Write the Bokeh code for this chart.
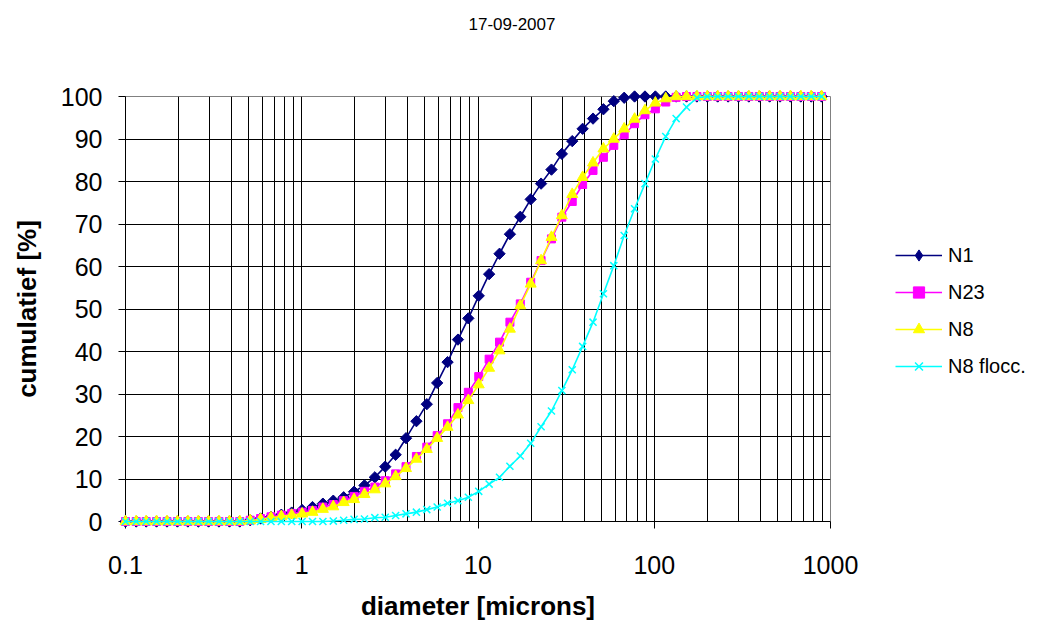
import numpy as np
from bokeh.plotting import figure
from bokeh.layouts import row
from bokeh.models import (Range1d, FixedTicker, CustomJSTickFormatter, Legend,
                          LegendItem, Title)
from bokeh.embed import file_html
from bokeh.resources import INLINE

# ---- data -------------------------------------------------------------
title_text = "17-09-2007"
x_label = "diameter [microns]"
y_label = "cumulatief [%]"

sizes = [0.100, 0.115, 0.131, 0.150, 0.172, 0.197, 0.226, 0.259, 0.296, 0.339,
         0.389, 0.445, 0.510, 0.584, 0.669, 0.766, 0.877,
         1.005, 1.151, 1.318, 1.510, 1.729, 1.981, 2.269, 2.599, 2.976, 3.409,
         3.905, 4.472, 5.122, 5.867, 6.720, 7.697, 8.816,
         10.097, 11.565, 13.246, 15.172, 17.377, 19.904, 22.797, 26.111, 29.907,
         34.255, 39.234, 44.938, 51.471, 58.953, 67.523, 77.339, 88.583,
         101.46, 116.21, 133.10, 152.45, 174.61, 200.00, 229.07, 262.37, 300.51,
         344.19, 394.22, 451.53, 517.17, 592.35, 678.46, 777.09, 890.06]

n1 = [0, 0, 0, 0, 0, 0, 0, 0, 0, 0, 0, 0,
      0.3, 0.7, 1.1, 1.6, 2.1, 2.7, 3.4, 4.2, 4.9, 5.7, 7.0, 8.5, 10.4, 12.9,
      15.7, 19.6, 23.6, 27.6, 32.6, 37.5, 42.8, 47.8, 53.1, 58.2, 63.0, 67.6,
      71.7, 75.8, 79.5, 82.8, 86.5, 89.5, 92.4, 94.8, 97.0, 98.9, 99.7,
      100, 100, 100, 100, 100, 100, 100, 100, 100, 100, 100, 100, 100, 100,
      100, 100, 100, 100, 100]

n23 = [0, 0, 0, 0, 0, 0, 0, 0, 0, 0, 0, 0,
       0.3, 0.7, 1.1, 1.5, 1.9, 2.2, 2.6, 3.4, 4.0, 4.9, 5.9, 7.1, 8.1, 9.6,
       11.2, 12.9, 15.3, 17.5, 20.2, 23.0, 26.8, 30.4, 34.1, 38.2, 42.2, 46.9,
       51.2, 56.3, 61.4, 66.5, 71.6, 75.3, 79.3, 82.6, 85.7, 88.5, 91.0, 93.6,
       95.7, 97.1, 98.7, 99.8,
       100, 100, 100, 100, 100, 100, 100, 100, 100, 100, 100, 100, 100, 100]

n8 = [0, 0, 0, 0, 0, 0, 0, 0, 0, 0, 0, 0,
      0.2, 0.5, 0.9, 1.2, 1.5, 1.8, 2.2, 2.9, 3.5, 4.5, 5.2, 6.4, 7.5, 8.9,
      10.6, 12.5, 14.7, 17.0, 19.6, 22.2, 25.1, 28.5, 32.2, 36.1, 40.2, 45.3,
      50.8, 55.9, 61.4, 66.9, 72.0, 77.0, 81.0, 84.4, 87.7, 90.0, 92.4, 94.7,
      96.7, 98.5, 99.5,
      100, 100, 100, 100, 100, 100, 100, 100, 100, 100, 100, 100, 100, 100, 100]

n8_flocc = [0, 0, 0, 0, 0, 0, 0, 0, 0, 0, 0, 0, 0, 0, 0, 0, 0, 0, 0, 0,
            0.1, 0.3, 0.5, 0.6, 0.9, 1.0, 1.4, 1.8, 2.2, 2.8, 3.4, 4.3, 4.9,
            5.7, 7.1, 8.8, 10.4, 13.0, 15.4, 18.4, 22.3, 26.0, 30.8, 35.7,
            41.2, 46.9, 53.6, 60.2, 67.3, 73.6, 79.5, 85.3, 90.6, 94.8, 97.5,
            99.7,
            100, 100, 100, 100, 100, 100, 100, 100, 100, 100, 100, 100]

series_names = ["N1", "N23", "N8", "N8 flocc."]
x_major = [0.1, 1, 10, 100, 1000]
y_ticks = [0, 10, 20, 30, 40, 50, 60, 70, 80, 90, 100]

# ---- main figure ------------------------------------------------------
FONT = "Liberation Sans"
p = figure(width=862, height=628, x_axis_type="log",
           x_range=Range1d(0.1, 1000), y_range=Range1d(0, 100),
           output_backend="svg", toolbar_location=None,
           min_border_left=125, min_border_right=32,
           min_border_top=96, min_border_bottom=107)
p.background_fill_color = "white"
p.border_fill_color = "white"
p.outline_line_color = "#808080"
p.outline_line_width = 1

# chart title (outermost) + an empty spacer title between it and the frame
p.title.text = title_text
p.title.align = "left"
p.title.offset = 343
p.title.vertical_align = "top"
p.title.standoff = 18
p.title.text_font = FONT
p.title.text_font_size = "17px"
p.title.text_font_style = "normal"
p.title.text_color = "black"
spacer = Title(text=" ", text_font_size="2px", standoff=52)
p.add_layout(spacer, "above")

x_minor = [m * d for d in x_major[:-1] for m in range(2, 10)]
p.xaxis.ticker = FixedTicker(ticks=x_major, minor_ticks=x_minor)
p.xaxis.formatter = CustomJSTickFormatter(
    code="return tick >= 1 ? tick.toFixed(0) : tick.toFixed(1);")
p.yaxis.ticker = FixedTicker(ticks=y_ticks)

for ax in (p.xaxis, p.yaxis):
    ax.axis_line_color = "black"
    ax.major_tick_line_color = "black"
    ax.major_tick_out = 7
    ax.major_tick_in = 0
    ax.minor_tick_line_color = None
    ax.major_label_text_font = FONT
    ax.major_label_text_font_size = "25px"
    ax.major_label_text_color = "black"
    ax.axis_label_text_font = FONT
    ax.axis_label_text_font_size = "26px"
    ax.axis_label_text_font_style = "bold"
    ax.axis_label_text_color = "black"

p.xaxis.axis_label = x_label
p.yaxis.axis_label = y_label
p.xaxis.major_label_standoff = 27
p.xaxis.axis_label_standoff = 14
p.yaxis.major_label_standoff = 16
p.yaxis.axis_label_standoff = 16

p.xgrid.grid_line_color = "black"
p.xgrid.grid_line_width = 1
p.xgrid.minor_grid_line_color = "black"
p.xgrid.minor_grid_line_width = 1
p.ygrid.grid_line_color = "black"
p.ygrid.grid_line_width = 1

styles = [
    dict(color="#000080", marker="square", size=8, angle=np.pi / 4,
         legend_marker="diamond"),
    dict(color="#FF00FF", marker="square", size=8, angle=0,
         legend_marker="square"),
    dict(color="#FFFF00", marker="triangle", size=11, angle=0,
         legend_marker="triangle"),
    dict(color="#00FFFF", marker="x", size=10, angle=0,
         legend_marker="x"),
]
for ys, st in zip([n1, n23, n8, n8_flocc], styles):
    p.line(sizes, ys, line_color=st["color"], line_width=1.6, level="overlay")
    p.scatter(sizes, ys, marker=st["marker"], size=st["size"],
              angle=st["angle"], fill_color=st["color"],
              line_color=st["color"],
              line_width=1.5 if st["marker"] == "x" else 1,
              level="overlay")

# ---- legend panel (key only; proxies hold no visible data) ------------
pl = figure(width=182, height=628, x_axis_type=None, y_axis_type=None,
            x_range=Range1d(0, 1), y_range=Range1d(0, 1),
            output_backend="svg", toolbar_location=None, min_border=0)
pl.outline_line_color = None
pl.background_fill_color = "white"
pl.border_fill_color = "white"
items = []
for name, st in zip(series_names, styles):
    ln = pl.line(x=[np.nan], y=[np.nan], line_color=st["color"],
                 line_width=1.6)
    sc = pl.scatter(x=[np.nan], y=[np.nan], marker=st["legend_marker"],
                    size=10, fill_color=st["color"],
                    line_color=st["color"],
                    line_width=1.5 if st["marker"] == "x" else 1)
    items.append(LegendItem(label=name, renderers=[ln, sc]))

legend = Legend(items=items, location=(33, 141), orientation="vertical",
                border_line_color=None, background_fill_alpha=0,
                padding=0, margin=0, spacing=9, glyph_width=47,
                glyph_height=28, label_height=28, label_standoff=6,
                label_text_font=FONT, label_text_font_size="20px",
                label_text_color="black")
pl.add_layout(legend)

layout = row(p, pl, spacing=0)
open("out.html", "w").write(file_html(layout, INLINE))
